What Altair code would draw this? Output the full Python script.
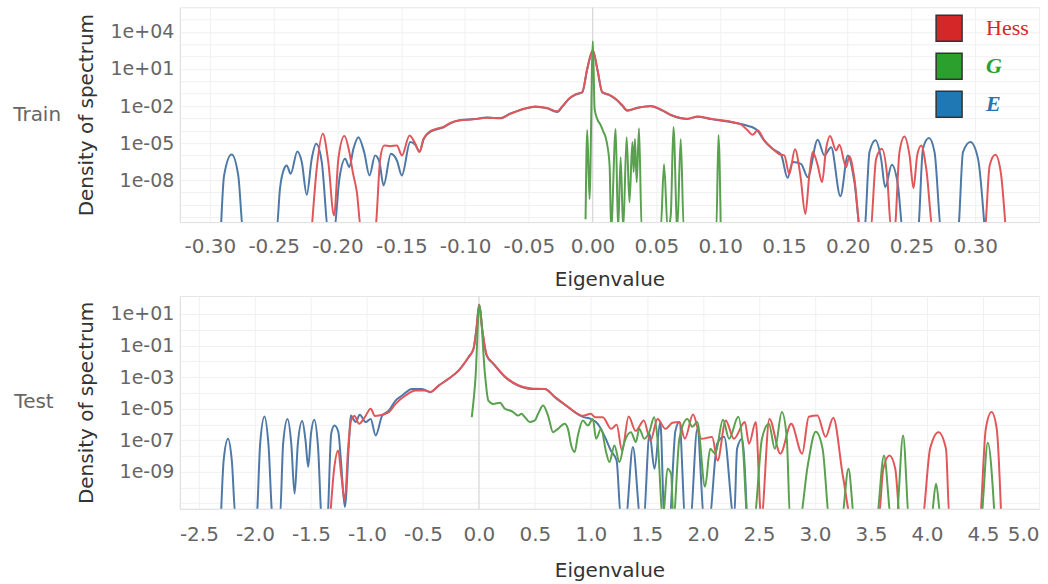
import altair as alt
import pandas as pd

FONT = "DejaVu Sans"
SERIES = ["Hess", "G", "E"]
LINE_COLORS = {"Hess": "#e15759", "G": "#59a14f", "E": "#4e79a7"}
LEGEND_COLORS = ["#d62728", "#2ca02c", "#1f77b4"]

# ---------------- Train (values: eigenvalue, log10 density) ----------------
train_hess_eig = [-0.2202, -0.2163, -0.2115, -0.2072, -0.2027, -0.1993, -0.1946, -0.1907, -0.1880, -0.1848,
                  -0.1815, -0.1705, -0.1665, -0.1634, -0.1587, -0.1534, -0.1495, -0.1435, -0.1390, -0.1357,
                  -0.1325, -0.1273, -0.1220, -0.1168, -0.1115, -0.1037, -0.0932, -0.0827, -0.0723, -0.0644,
                  -0.0540, -0.0448, -0.0356, -0.0277, -0.0238, -0.0186, -0.0134, -0.0081, -0.0042, 0.0002,
                  0.0037, 0.0076, 0.0128, 0.0181, 0.0233, 0.0273, 0.0351, 0.0456, 0.0534, 0.0626,
                  0.0744, 0.0822, 0.0927, 0.1058, 0.1163, 0.1215, 0.1254, 0.1294, 0.1346, 0.1412,
                  0.1477, 0.1503, 0.1542, 0.1587, 0.1629, 0.1668, 0.1699, 0.1726, 0.1765, 0.1799,
                  0.1831, 0.1862, 0.1909, 0.1935, 0.1988, 0.2013, 0.2053, 0.2100, 0.2178, 0.2223,
                  0.2268, 0.2309, 0.2341, 0.2367, 0.2406, 0.2445, 0.2485, 0.2516, 0.2545, 0.2577,
                  0.2616, 0.2669, 0.3074, 0.3113, 0.3158, 0.3200, 0.3239]
train_hess_logd = [-12, -7.09, -4.25, -6.54, -10.87, -6.28, -4.43, -5.73, -7.35, -8.98,
                   -12, -12, -6.28, -5.19, -5.25, -5.19, -6.00, -4.38, -5.06, -5.73,
                   -4.65, -4.05, -3.84, -3.70, -3.36, -3.16, -3.08, -2.95, -2.97, -2.63,
                   -2.22, -2.03, -2.16, -2.43, -2.03, -1.41, -1.05, -0.87, 1.02, 2.52,
                   1.02, -0.87, -1.08, -1.41, -1.94, -2.35, -2.16, -2.00, -2.27, -2.76,
                   -3.03, -2.84, -3.03, -3.22, -3.49, -3.97, -4.33, -3.97, -4.78, -5.46,
                   -5.95, -6.00, -7.49, -5.51, -7.62, -10.74, -7.62, -5.73, -6.81, -8.16,
                   -5.46, -4.43, -5.59, -5.14, -6.95, -6.06, -7.90, -12, -12, -6.28,
                   -5.46, -7.62, -12, -12, -5.73, -4.46, -6.00, -8.65, -6.00, -5.19,
                   -7.09, -12, -12, -6.81, -5.95, -7.35, -12]

train_e_eig = [-0.2914, -0.2889, -0.2830, -0.2778, -0.2739, -0.2477, -0.2451, -0.2419, -0.2398, -0.2367,
               -0.2315, -0.2280, -0.2241, -0.2202, -0.2168, -0.2123, -0.2072, -0.2027, -0.1985, -0.1940,
               -0.1907, -0.1875, -0.1836, -0.1791, -0.1749, -0.1705, -0.1671, -0.1639, -0.1581, -0.1534,
               -0.1495, -0.1430, -0.1390, -0.1357, -0.1325, -0.1273, -0.1220, -0.1168, -0.1115, -0.1037,
               -0.0932, -0.0827, -0.0723, -0.0644, -0.0540, -0.0448, -0.0356, -0.0277, -0.0238, -0.0186,
               -0.0134, -0.0081, -0.0042, 0.0002, 0.0037, 0.0076, 0.0128, 0.0181, 0.0233, 0.0273,
               0.0351, 0.0456, 0.0534, 0.0626, 0.0744, 0.0822, 0.0927, 0.1058, 0.1163, 0.1215,
               0.1254, 0.1294, 0.1346, 0.1412, 0.1477, 0.1529, 0.1569, 0.1634, 0.1687, 0.1765,
               0.1817, 0.1870, 0.1943, 0.2001, 0.2053, 0.2100, 0.2131, 0.2171, 0.2218, 0.2262,
               0.2294, 0.2346, 0.2394, 0.2433, 0.2551, 0.2590, 0.2637, 0.2681, 0.2734, 0.2865,
               0.2904, 0.2962, 0.3022, 0.3074]
train_e_logd = [-12, -7.62, -5.92, -7.62, -12, -12, -8.71, -7.09, -6.81, -7.49,
                -5.68, -6.54, -9.19, -6.28, -5.06, -6.54, -12, -12, -7.90, -6.28,
                -6.95, -5.46, -4.52, -5.73, -7.62, -6.00, -6.54, -8.43, -5.87, -6.41,
                -7.62, -4.92, -5.14, -5.68, -4.70, -4.10, -3.88, -3.72, -3.40, -3.14,
                -3.06, -2.93, -3.00, -2.60, -2.25, -2.05, -2.19, -2.48, -2.06, -1.44,
                -1.08, -0.90, 0.98, 2.50, 0.98, -0.90, -1.10, -1.45, -1.98, -2.38,
                -2.14, -2.02, -2.30, -2.79, -3.05, -2.87, -3.06, -3.25, -3.46, -3.60,
                -3.72, -4.00, -4.80, -5.48, -5.92, -7.82, -6.54, -6.68, -7.76, -4.73,
                -6.00, -5.33, -9.30, -6.00, -8.16, -12, -12, -5.73, -4.78, -6.28,
                -8.57, -6.76, -8.43, -12, -12, -5.46, -4.60, -5.73, -12, -12,
                -5.73, -4.92, -6.28, -12]

train_g_eig = [-0.0055, -0.0042, -0.0024, 0.0002, 0.0016, 0.0037, 0.0063, 0.0086, 0.0102, 0.0118,
               0.0134, 0.0145, 0.0181, 0.0200, 0.0220, 0.0240, 0.0267, 0.0289, 0.0312, 0.0322,
               0.0332, 0.0346, 0.0364, 0.0385, 0.0534, 0.0560, 0.0589, 0.0613, 0.0634, 0.0664,
               0.0691, 0.0715, 0.0970, 0.0987, 0.1005]
train_g_logd = [-11.17, -3.95, -9.54, 3.25, -2.24, -3.06, -3.54, -4.11, -4.52, -5.33,
                -6.95, -12, -3.87, -12, -6.14, -12, -4.52, -9.79, -4.92, -7.35,
                -4.68, -8.17, -3.79, -12, -12, -6.71, -12, -10.84, -3.70, -12,
                -4.68, -12, -12, -4.35, -12]

# ---------------- Test ----------------
test_hess_eig = [-1.3286, -1.2922, -1.2567, -1.2300, -1.1972, -1.1679, -1.1412, -1.1101, -1.0701, -1.0169,
                 -0.9663, -0.9281, -0.8926, -0.8038, -0.7443, -0.6555, -0.5667, -0.4779, -0.4335, -0.3597,
                 -0.2709, -0.1821, -0.0933, -0.0489, -0.0222, 0.0017, 0.0311, 0.0692, 0.1287, 0.2326,
                 0.3507, 0.4689, 0.5879, 0.6767, 0.7948, 0.8543, 0.9280, 0.9990, 1.0346, 1.1057,
                 1.1802, 1.2300, 1.2779, 1.3366, 1.3988, 1.4725, 1.5311, 1.5942, 1.6652, 1.7274,
                 1.7896, 1.8384, 1.9113, 1.9849, 2.0817, 2.1306, 2.2034, 2.2762, 2.3739, 2.4112,
                 2.4716, 2.5204, 2.5934, 2.6910, 2.7879, 2.8854, 2.9445, 3.0221, 3.0950, 3.1634,
                 3.2504, 3.3260, 3.5674, 3.6101, 3.6651, 3.7167, 3.7611, 3.9565, 4.0275, 4.1030,
                 4.1697, 4.2007, 4.4690, 4.5249, 4.5764, 4.6226, 4.6634]
test_hess_logd = [-12, -8.81, -7.65, -9.13, -10.82, -7.55, -5.75, -5.46, -5.96, -5.52,
                  -5.01, -5.46, -5.44, -5.22, -4.70, -4.17, -3.85, -3.85, -3.94, -3.54,
                  -3.11, -2.59, -1.74, -1.22, 0.05, 1.60, -0.05, -1.60, -2.14, -2.97,
                  -3.52, -3.73, -3.76, -4.25, -4.88, -5.20, -5.45, -5.33, -5.54, -5.54,
                  -6.28, -6.03, -7.67, -5.50, -6.41, -5.75, -7.04, -5.65, -6.28, -5.90,
                  -5.85, -6.91, -5.37, -6.91, -6.80, -8.29, -5.75, -6.91, -5.85, -7.23,
                  -5.85, -12, -5.65, -7.86, -5.96, -7.86, -5.52, -5.44, -6.79, -5.58,
                  -9.32, -12, -12, -8.81, -7.97, -8.81, -12, -12, -7.55, -6.49,
                  -7.55, -12, -12, -6.28, -5.22, -6.28, -12]

test_e_eig = [-2.3037, -2.2788, -2.2398, -2.2060, -2.1714, -1.9867, -1.9529, -1.9139, -1.8792, -1.8402,
              -1.7771, -1.7478, -1.7087, -1.6750, -1.6457, -1.6164, -1.5773, -1.5480, -1.5240, -1.4991,
              -1.4698, -1.4361, -1.4023, -1.3535, -1.3189, -1.2895, -1.2558, -1.2318, -1.1972, -1.1590,
              -1.1439, -1.0995, -1.0640, -1.0107, -0.9663, -0.9219, -0.8633, -0.8038, -0.7443, -0.6857,
              -0.5969, -0.5081, -0.4335, -0.3597, -0.2709, -0.1821, -0.0933, -0.0489, -0.0222, 0.0017,
              0.0311, 0.0692, 0.1287, 0.2326, 0.3507, 0.4689, 0.5879, 0.6767, 0.7948, 0.8543,
              0.9280, 0.9990, 1.0612, 1.1323, 1.1767, 1.2291, 1.2682, 1.3099, 1.3747, 1.4431,
              1.4698, 1.5231, 1.5675, 1.6190, 1.6563, 1.7007, 1.7540, 1.7895, 1.8428, 1.8872,
              1.9494, 2.0115, 2.0559, 2.1270, 2.1891, 2.2780, 2.3046, 2.3490, 2.3934]
test_e_logd = [-12, -8.29, -6.91, -8.29, -12, -12, -7.23, -5.50, -7.23, -12,
               -12, -7.23, -5.65, -7.23, -10.39, -7.23, -5.79, -7.02, -8.70, -6.60,
               -5.71, -7.44, -12, -12, -6.60, -6.07, -6.45, -8.29, -11.23, -7.02,
               -5.44, -5.85, -5.39, -5.85, -5.65, -6.70, -5.44, -5.12, -4.49, -4.17,
               -3.75, -3.75, -3.96, -3.54, -3.11, -2.59, -1.74, -1.22, 0.05, 1.57,
               -0.08, -1.64, -2.16, -2.99, -3.54, -3.75, -3.75, -4.27, -4.90, -5.22,
               -5.52, -5.65, -5.96, -6.91, -7.65, -8.29, -12, -12, -7.44, -12,
               -12, -6.60, -8.81, -5.84, -12, -12, -6.41, -5.84, -12, -12,
               -6.28, -12, -12, -7.23, -6.79, -12, -7.55, -6.91, -12]

test_g_eig = [-0.0639, -0.0311, 0.0044, 0.0550, 0.0843, 0.1287, 0.1882, 0.2326, 0.2770, 0.3063,
              0.3507, 0.3800, 0.4102, 0.4546, 0.4990, 0.5283, 0.5727, 0.6171, 0.6615, 0.7059,
              0.7654, 0.7948, 0.8241, 0.8543, 0.8836, 0.9280, 0.9724, 1.0168, 1.0461, 1.0906,
              1.1350, 1.1652, 1.2096, 1.2540, 1.2984, 1.3570, 1.4014, 1.4316, 1.4760, 1.5204,
              1.5648, 1.5941, 1.6430, 1.6830, 1.7158, 1.7362, 1.7895, 1.8606, 1.9050, 1.9494,
              2.0187, 2.0648, 2.1093, 2.1785, 2.2336, 2.3153, 2.3579, 2.3979, 2.4556, 2.5267,
              2.5888, 2.6421, 2.7043, 2.7487, 2.7779, 2.8641, 2.9351, 3.0062, 3.0683, 3.1305,
              3.2371, 3.2993, 3.3525, 3.5479, 3.6163, 3.6811, 3.7256, 3.7868, 3.8410, 4.0364,
              4.0808, 4.1252, 4.4805, 4.5426, 4.6048]
test_g_logd = [-5.54, -3.11, 1.57, -2.90, -4.49, -4.70, -4.63, -5.01, -5.12, -5.22,
               -5.44, -5.33, -5.54, -5.85, -5.75, -5.33, -4.80, -5.44, -6.49, -6.28,
               -5.96, -6.28, -7.34, -7.75, -6.70, -5.75, -6.07, -5.65, -6.91, -6.28,
               -7.75, -8.39, -7.34, -8.39, -7.12, -6.49, -7.12, -6.28, -6.91, -6.49,
               -5.54, -6.91, -12, -8.81, -9.13, -12, -6.91, -5.65, -6.15, -5.84,
               -9.95, -7.55, -7.86, -5.71, -6.91, -5.52, -7.55, -12, -12, -6.91,
               -5.96, -7.55, -5.22, -6.91, -12, -12, -8.62, -6.47, -7.55, -12,
               -12, -8.81, -12, -12, -7.97, -12, -12, -6.70, -12, -12,
               -9.76, -12, -12, -7.16, -12]

train_xticks = [-0.30, -0.25, -0.20, -0.15, -0.10, -0.05, 0.00, 0.05, 0.10, 0.15, 0.20, 0.25, 0.30, 0.35]
test_xticks = [-2.5, -2.0, -1.5, -1.0, -0.5, 0.0, 0.5, 1.0, 1.5, 2.0, 2.5, 3.0, 3.5, 4.0, 4.5, 5.0]
train_ylabels = [4, 1, -2, -5, -8]
test_ylabels = [1, -1, -3, -5, -7, -9]
train_ygrid = list(range(-11, 6))
test_ygrid = list(range(-11, 2))


def frame(series):
    rows = []
    for name, (xs, ls) in series.items():
        for x, l in zip(xs, ls):
            rows.append({"eig": x, "dens": 10 ** l, "series": name})
    return pd.DataFrame(rows)


train_df = frame({"Hess": (train_hess_eig, train_hess_logd), "G": (train_g_eig, train_g_logd),
                  "E": (train_e_eig, train_e_logd)})
test_df = frame({"Hess": (test_hess_eig, test_hess_logd), "G": (test_g_eig, test_g_logd),
                 "E": (test_e_eig, test_e_logd)})


def ylab_expr(exps):
    arr = ",".join(str(e) for e in exps)
    e = "round(log(datum.value)/LN10)"
    return (f"indexof([{arr}], {e}) >= 0 ? '1e' + ({e} < 0 ? '-' : '+') + "
            f"(abs({e}) < 10 ? '0' : '') + abs({e}) : ''")


def panel(df, row, row_offset, xdom, xticks, xlabels, xfmt, ydom, ygrid, ylabels, height, legend,
          x_label_pad, x_title_pad):
    x = alt.X("eig:Q", scale=alt.Scale(domain=xdom, nice=False, zero=False),
              axis=alt.Axis(values=xticks, title="Eigenvalue",
                            labelExpr=f"indexof({xlabels}, datum.value) >= 0 ? replace(format(datum.value, '{xfmt}'), '\u2212', '-') : ''",
                            labelOverlap=False, labelFlush=True, labelPadding=x_label_pad,
                            titlePadding=x_title_pad))
    y = alt.Y("dens:Q", scale=alt.Scale(type="log", domain=ydom, nice=False),
              axis=alt.Axis(values=[10.0 ** e for e in ygrid], title="Density of spectrum",
                            labelExpr=ylab_expr(ylabels), labelOverlap=False))
    zero = alt.Chart(pd.DataFrame({"eig": [0.0]})).mark_rule(color="#d9d9d9", strokeWidth=1.2).encode(x="eig:Q")
    layers = [zero]
    for name in ["E", "Hess", "G"]:
        layers.append(
            alt.Chart(df).transform_filter(alt.datum.series == name)
            .mark_line(clip=True, strokeWidth=2, interpolate="monotone", color=LINE_COLORS[name])
            .encode(x=x, y=y)
        )
    if legend:
        lg = alt.Legend(title=None, orient="none", legendX=756, legendY=7, padding=0,
                        symbolType="square", symbolSize=676, symbolStrokeColor="#333333",
                        symbolStrokeWidth=1.5, symbolOpacity=1, labelFont="Liberation Serif",
                        labelFontSize=22, labelOffset=23, rowPadding=6,
                        labelColor={"expr": "datum.label == 'Hess' ? '#d62728' : datum.label == 'G' ? '#2ca02c' : '#1f77b4'"},
                        labelFontStyle={"expr": "datum.label == 'Hess' ? 'normal' : 'italic'"},
                        labelFontWeight={"expr": "datum.label == 'Hess' ? 'normal' : 'bold'"})
        layers.append(
            alt.Chart(df).transform_filter("false").mark_square()
            .encode(x=x, y=y, fill=alt.Fill("series:N", scale=alt.Scale(domain=SERIES, range=LEGEND_COLORS), legend=lg))
        )
    return alt.layer(*layers).properties(
        width=860, height=height,
        title=alt.TitleParams(row, orient="left", angle=0, align="right", baseline="middle", anchor="middle",
                              offset=row_offset, fontSize=20, color="#666666", font=FONT, fontWeight="normal"))


top = panel(train_df, "Train", -33, [-0.3236, 0.35], train_xticks, train_xticks[:-1], ".2f",
            [10 ** -11.4, 1e6], train_ygrid, train_ylabels, 215, True, 14, 13)
bottom = panel(test_df, "Test", -17, [-2.67, 5.0], test_xticks, test_xticks, ".1f",
               [10 ** -11.35, 10 ** 2.14], test_ygrid, test_ylabels, 213, False, 16, 16)

chart = (
    alt.vconcat(top, bottom, spacing=4)
    .resolve_scale(x="independent", y="independent", fill="independent")
    .properties(padding={"left": 12, "top": 5, "right": 8, "bottom": 2}, background="white")
    .configure_view(stroke="#e6e6e6")
    .configure_axis(labelFont=FONT, titleFont=FONT, labelColor="#666666", titleColor="#333333",
                    labelFontSize=20, titleFontSize=20, titleFontWeight="normal",
                    grid=True, gridColor="#f0f0f0", gridWidth=1, ticks=False,
                    domainColor="#e0e0e0", labelPadding=8)
    .configure_axisY(labelFontSize=19, titlePadding=14, labelPadding=6)
)

chart.save("out.html", embed_options={"renderer": "svg", "actions": False})
